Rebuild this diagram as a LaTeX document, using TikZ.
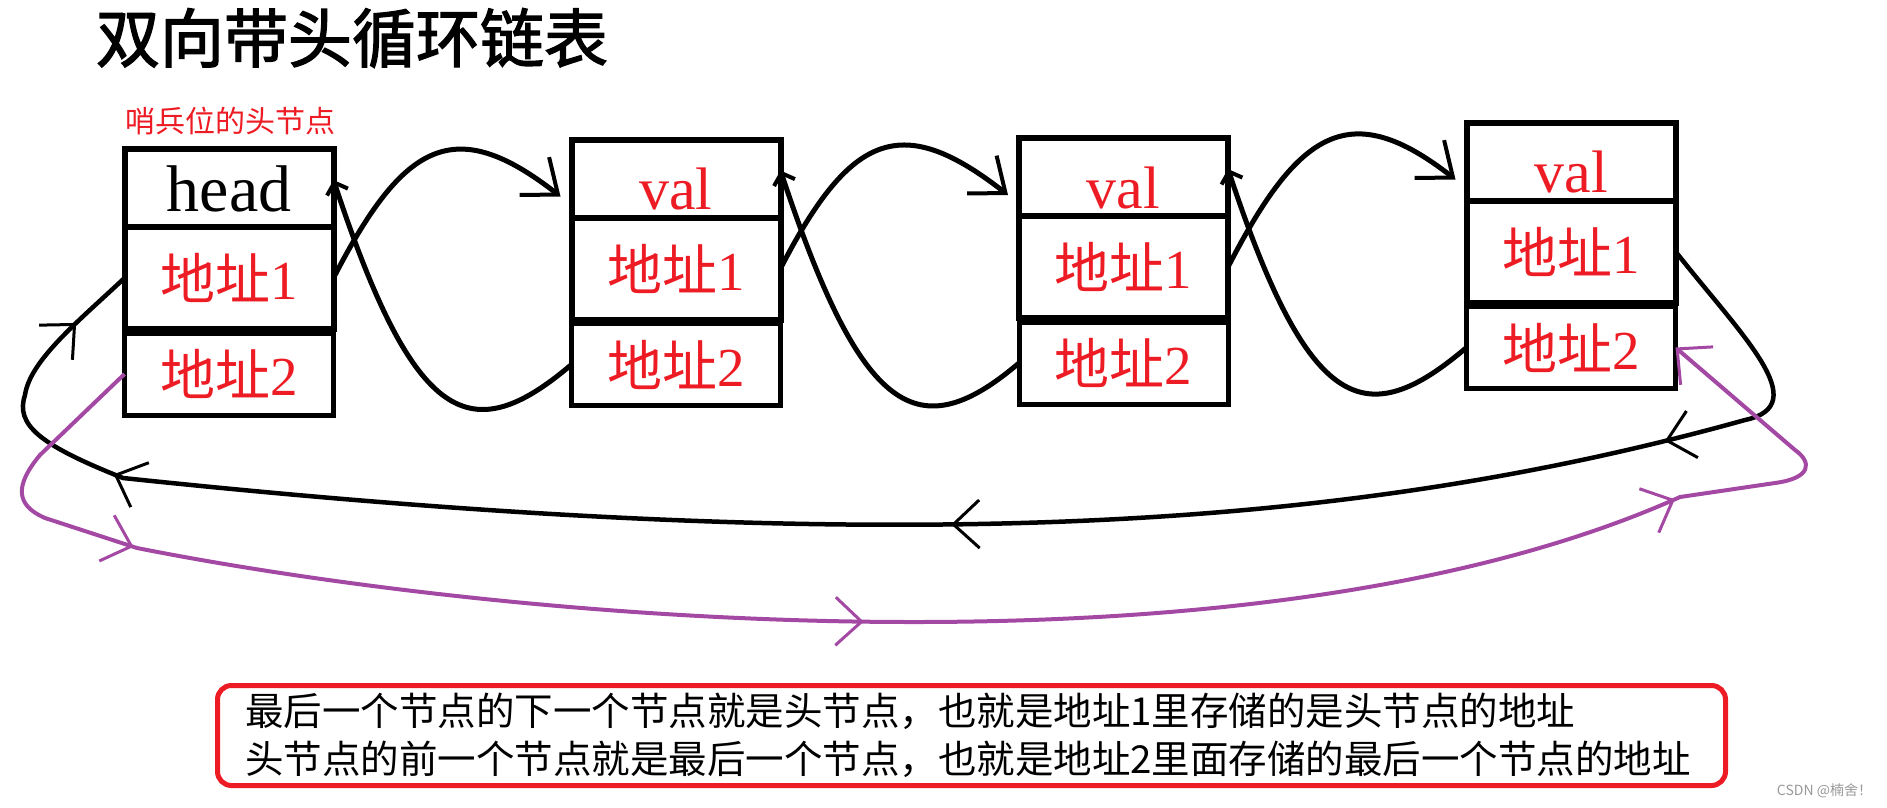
\documentclass[tikz,border=0pt]{standalone}
\usepackage{fontspec}
\setmainfont{Liberation Serif}
\newfontfamily\cjk{Noto Sans CJK SC}
\newfontfamily\cjktitle[FakeBold=2]{Noto Sans CJK SC}
\usepackage{tikz}
\usetikzlibrary{arrows.meta,positioning,decorations.markings}
\definecolor{boxred}{RGB}{237,28,36}
\definecolor{loopviolet}{RGB}{163,73,164}

\begin{document}
\begin{tikzpicture}[x=1pt,y=-1pt,
  every node/.style={inner sep=0pt,outer sep=0pt},
  cell/.style={draw,line width=6pt,minimum width=209pt,text=boxred,font=\cjk\fontsize{55}{55}\selectfont},
  valcell/.style={cell,minimum height=78pt,text height=62pt,text depth=0pt,font=\rmfamily\fontsize{60}{60}\selectfont},
  nextcell/.style={cell,minimum height=102pt},
  prevcell/.style={cell,line width=5pt,minimum height=82pt},
  link/.style={line width=5pt,-{Straight Barb[length=30pt,width=48pt,line width=4pt]}},
  back/.style={line width=5pt,-{Straight Barb[length=10pt,width=22pt,line width=4pt]}},
  barb/.tip={Straight Barb[length=26pt,width=48pt,line width=3pt]}]
 \useasboundingbox (0,0) rectangle (1887,807);
 \node[anchor=west,font=\cjktitle\fontsize{64}{64}\selectfont] (title) at (96,38) {双向带头循环链表};
 \node[anchor=west,text=boxred,font=\cjk\fontsize{30}{30}\selectfont] (sentinel) at (125,121) {哨兵位的头节点};
 % head node
 \node[valcell,text=black,text height=46pt,font=\rmfamily\fontsize{66}{66}\selectfont] (hv) at (229,188) {head};
 \node[nextcell,below=0pt of hv] (hn) {地址{\rmfamily 1}};
 \node[prevcell,below=4pt of hn] (hp) {地址{\rmfamily 2}};
 % data nodes
 \node[valcell] (n1v) at (676,178.5) {val};
 \node[nextcell,below=0pt of n1v] (n1n) {地址{\rmfamily 1}};
 \node[prevcell,below=4pt of n1n] (n1p) {地址{\rmfamily 2}};
 \node[valcell] (n2v) at (1123.5,177) {val};
 \node[nextcell,below=0pt of n2v] (n2n) {地址{\rmfamily 1}};
 \node[prevcell,below=4pt of n2n] (n2p) {地址{\rmfamily 2}};
 \node[valcell] (n3v) at (1571,161.5) {val};
 \node[nextcell,below=0pt of n3v] (n3n) {地址{\rmfamily 1}};
 \node[prevcell,below=4pt of n3n] (n3p) {地址{\rmfamily 2}};
 % next / prev links
 \draw[link] (hn.east) .. controls +(71,-138) and +(-105,-82) .. ([shift={(-11,18)}]n1v.west);
 \draw[link] (n1n.east) .. controls +(71,-138) and +(-105,-82) .. ([shift={(-11,18)}]n2v.west);
 \draw[link] (n2n.east) .. controls +(71,-138) and +(-105,-82) .. ([shift={(-11,18)}]n3v.west);
 \draw[back] (n1p.west) .. controls +(-101,86) and +(81,245) .. ([shift={(0,-8)}]hv.east);
 \draw[back] (n2p.west) .. controls +(-101,86) and +(81,245) .. ([shift={(0,-8)}]n1v.east);
 \draw[back] (n3p.west) .. controls +(-101,86) and +(81,245) .. ([shift={(0,-8)}]n2v.east);
 % last -> head
 \draw[line width=4.5pt,postaction=decorate,decoration={markings,
     mark=at position 300pt with {\arrow{barb}},
     mark=at position 1020pt with {\arrow{barb}},
     mark=at position 1860pt with {\arrow{barb}},
     mark=at position -66pt with {\arrow{barb}}}]
   (n3n.east) .. controls +(67,85) and (1815,405) .. (1745,420)
   .. controls (1350,530) and (900,560) .. (123,478)
   .. controls (40,445) and (15,425) .. (25,395)
   .. controls (30,360) and (80,320) .. (hn.west);
 % head -> last
 \draw[color=loopviolet,line width=4pt,-{Straight Barb[length=26pt,width=50pt,line width=3pt]},
     postaction=decorate,decoration={markings,
     mark=at position 289pt with {\arrow{barb}},
     mark=at position 1024pt with {\arrow{barb}},
     mark=at position 1850pt with {\arrow{barb}}}]
   (hp.west) -- (40,455) .. controls (15,485) and (15,505) .. (45,518) -- (137,548)
   .. controls (500,620) and (1250,690) .. (1680,497) -- (1775,483)
   .. controls (1812,478) and (1812,462) .. (1795,450) -- (n3p.east);
 \node[draw=boxred,line width=5pt,rounded corners=14pt,minimum width=1508pt,minimum height=100pt,
   text width=1453pt,inner xsep=27.5pt,align=left,font=\cjk\fontsize{38.5}{48}\selectfont] (note) at (971.5,735.5)
   {最后一个节点的下一个节点就是头节点，也就是地址1里存储的是头节点的地址\\
    头节点的前一个节点就是最后一个节点，也就是地址2里面存储的最后一个节点的地址};
 \node[anchor=east,text=gray!80,font=\cjk\fontsize{14}{14}\selectfont] (wm) at (1872,791) {CSDN @楠舍！};
\end{tikzpicture}
\end{document}
